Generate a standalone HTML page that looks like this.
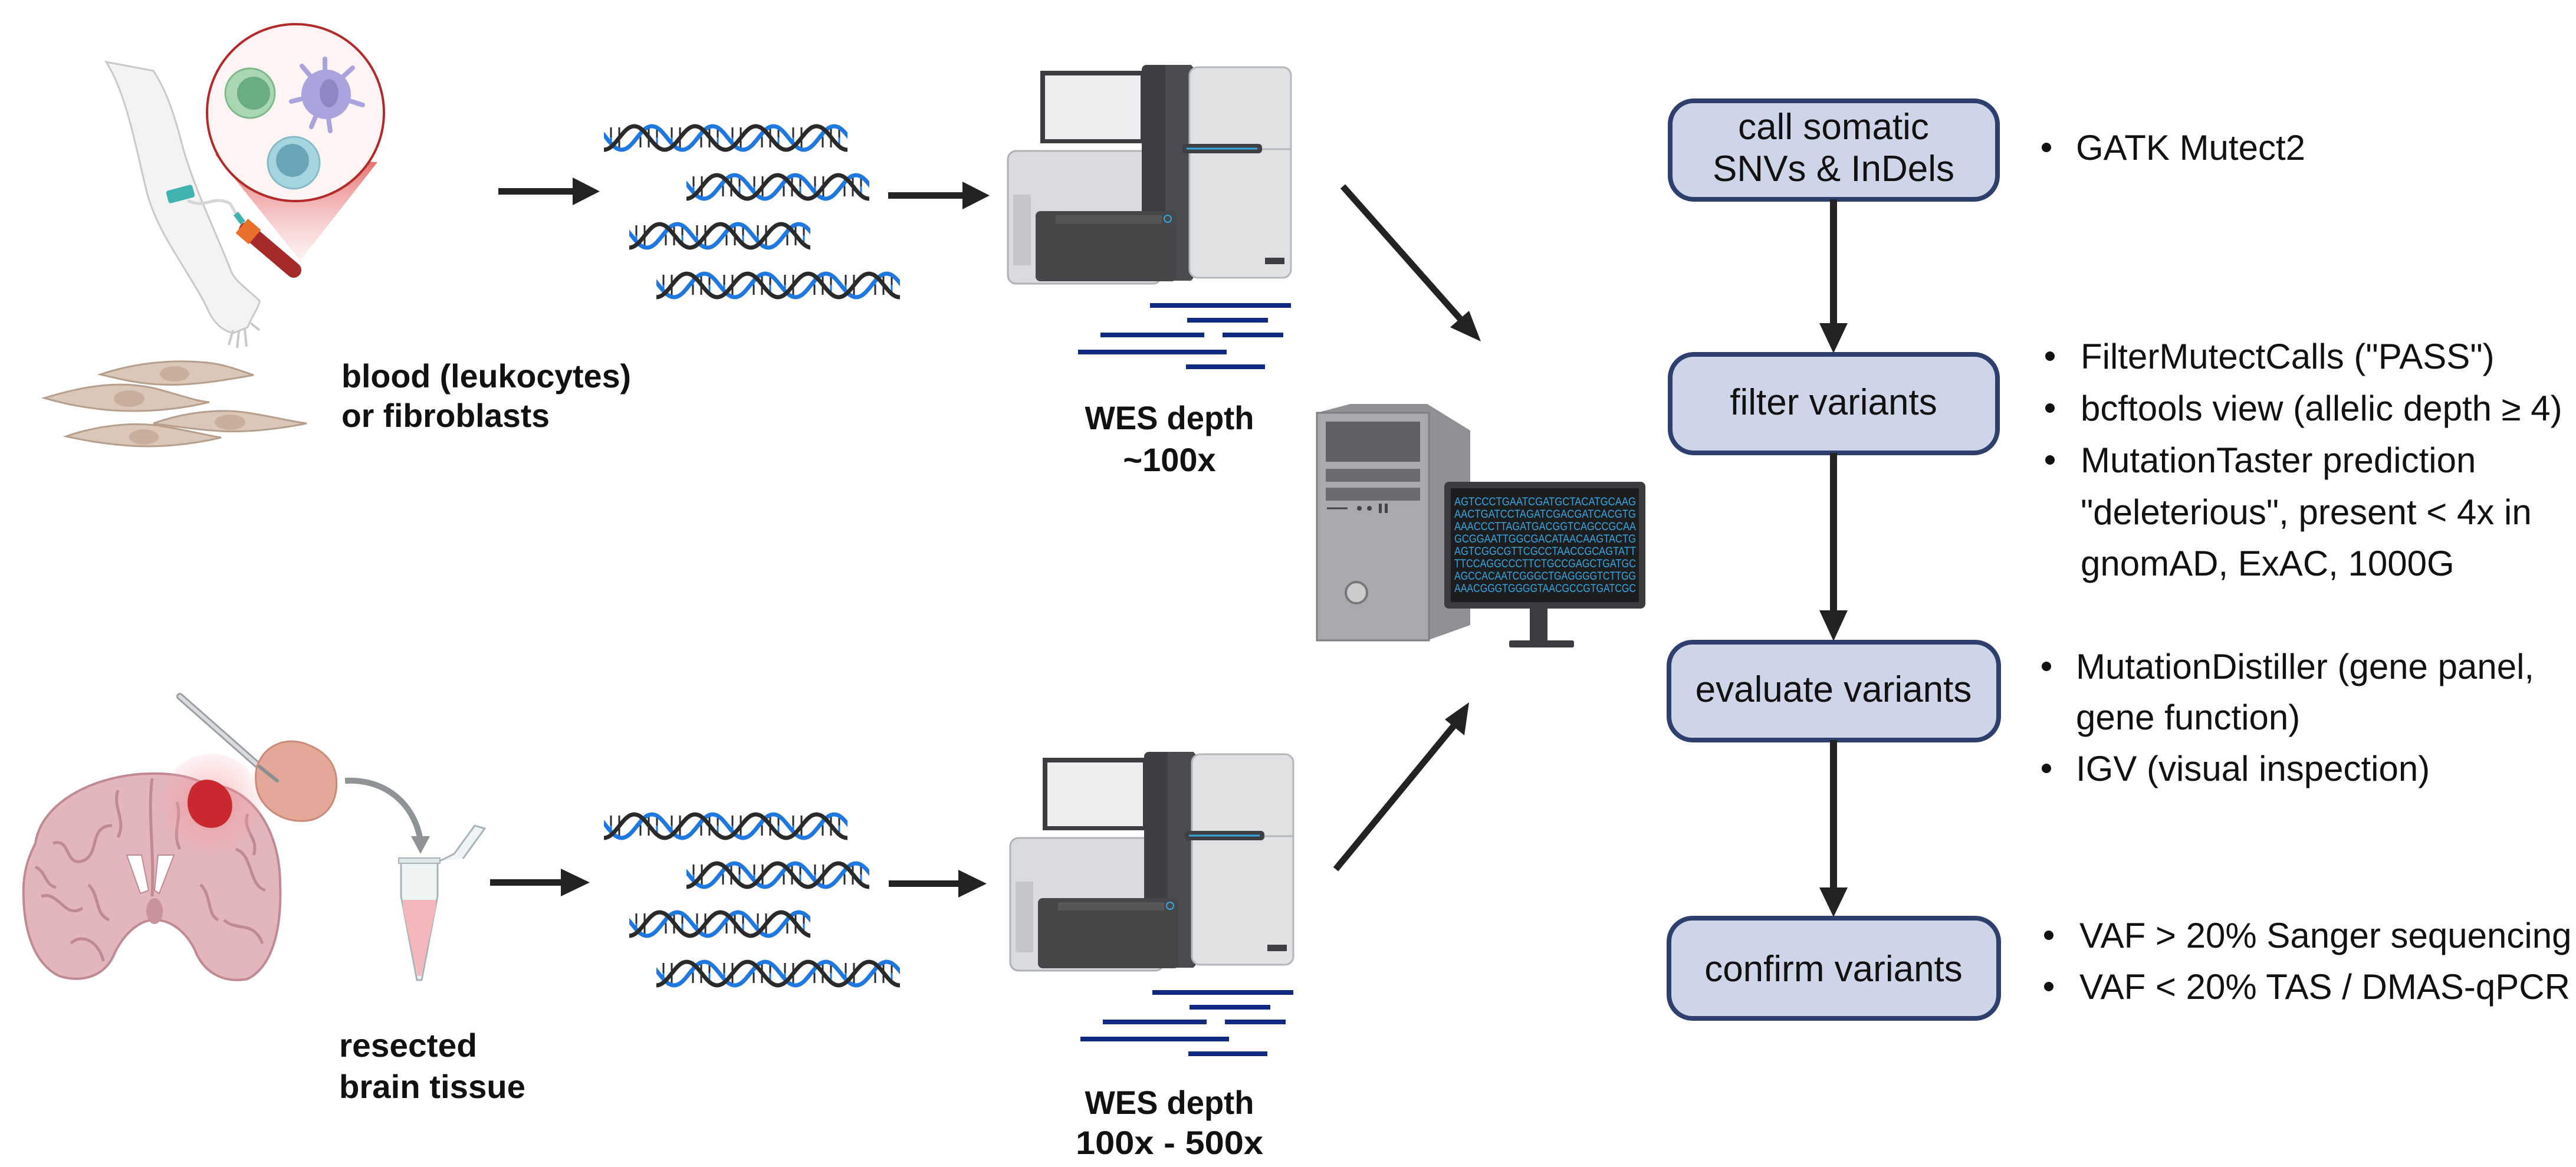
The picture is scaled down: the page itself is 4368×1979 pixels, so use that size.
<!DOCTYPE html>
<html><head><meta charset="utf-8"><style>
html,body{margin:0;padding:0;background:#fff;}
svg{display:block;}
.b{font-family:"Liberation Sans",Arial,sans-serif;font-weight:bold;fill:#111;}
.r{font-family:"Liberation Sans",Arial,sans-serif;fill:#111;}
</style></head><body>
<svg width="4368" height="1979" viewBox="0 0 4368 1979" xmlns="http://www.w3.org/2000/svg">
<defs>
<g id="per">
  <g stroke="#2a2a2a" stroke-width="3">
    <line x1="12" y1="8" x2="12" y2="42"/><line x1="26" y1="8" x2="26" y2="42"/><line x1="62" y1="8" x2="62" y2="42"/><line x1="76" y1="8" x2="76" y2="42"/><line x1="90" y1="8" x2="90" y2="42"/>
  </g>
  <g stroke="#1f78e0" stroke-width="3">
    <line x1="12" y1="25" x2="12" y2="40"/><line x1="62" y1="8" x2="62" y2="25"/><line x1="90" y1="25" x2="90" y2="40"/>
  </g>
  <g fill="none" stroke-width="7">
    <path stroke="#1f78e0" d="M-73,46 C-53,46 -41.5,6 -21.5,6 C-1.5,6 10,46 30,46 C50,46 61.5,6 81.5,6 C101.5,6 113,46 133,46"/>
    <path stroke="#2a2a2a" d="M-103,46 C-83,46 -71.5,6 -51.5,6 C-31.5,6 -20,46 0,46 C20,46 31.5,6 51.5,6 C71.5,6 83,46 103,46 C123,46 134.5,6 154.5,6"/>
  </g>
</g>
<pattern id="d1" patternUnits="userSpaceOnUse" x="1024" y="208" width="103" height="50"><use href="#per"/></pattern>
<pattern id="d2" patternUnits="userSpaceOnUse" x="1164" y="291" width="103" height="50"><use href="#per"/></pattern>
<pattern id="d3" patternUnits="userSpaceOnUse" x="1067" y="374" width="103" height="50"><use href="#per"/></pattern>
<pattern id="d4" patternUnits="userSpaceOnUse" x="1113" y="458" width="103" height="50"><use href="#per"/></pattern>
<linearGradient id="cone" x1="0" y1="0" x2="0" y2="1"><stop offset="0" stop-color="#e04b4b" stop-opacity="0.85"/><stop offset="1" stop-color="#f5b5b5" stop-opacity="0.2"/></linearGradient>
<radialGradient id="glow"><stop offset="0" stop-color="#f08080" stop-opacity="0.6"/><stop offset="1" stop-color="#f6b0b0" stop-opacity="0.15"/></radialGradient>
<g id="seq">
  <rect x="1709" y="256" width="260" height="225" rx="14" fill="#d9dbde" stroke="#aeb1b5" stroke-width="3"/>
  <rect x="1718" y="330" width="30" height="120" fill="#c4c6c9"/>
  <rect x="1764" y="120" width="176" height="123" fill="#3b3d40"/>
  <rect x="1772" y="128" width="162" height="108" fill="#eceeef"/>
  <rect x="1936" y="110" width="88" height="366" rx="8" fill="#3d3f42"/>
  <rect x="1976" y="110" width="44" height="366" fill="#4a4c50"/>
  <rect x="2017" y="114" width="172" height="357" rx="14" fill="#dfe1e3" stroke="#b5b8bb" stroke-width="3"/>
  <line x1="2017" y1="253" x2="2189" y2="253" stroke="#b5b8bb" stroke-width="3"/>
  <rect x="2005" y="244" width="135" height="16" rx="6" fill="#3d3f42"/>
  <line x1="2012" y1="252" x2="2132" y2="252" stroke="#3aa6e0" stroke-width="3"/>
  <rect x="1756" y="358" width="239" height="119" rx="8" fill="#454749"/>
  <rect x="1790" y="365" width="180" height="14" fill="#555759"/>
  <circle cx="1980" cy="371" r="6" fill="none" stroke="#3aa6e0" stroke-width="2"/>
  <rect x="2145" y="437" width="33" height="11" fill="#3d3f42"/>
  <g stroke="#0f2a80" stroke-width="8">
    <line x1="1950" y1="518" x2="2189" y2="518"/>
    <line x1="2013" y1="543" x2="2150" y2="543"/>
    <line x1="1866" y1="568" x2="2042" y2="568"/>
    <line x1="2073" y1="568" x2="2176" y2="568"/>
    <line x1="1828" y1="597" x2="2080" y2="597"/>
    <line x1="2011" y1="622" x2="2145" y2="622"/>
  </g>
</g>
<g id="dnas">
  <rect x="1024" y="208" width="413" height="50" fill="url(#d1)"/>
  <rect x="1164" y="291" width="310" height="50" fill="url(#d2)"/>
  <rect x="1067" y="374" width="307" height="50" fill="url(#d3)"/>
  <rect x="1113" y="458" width="413" height="50" fill="url(#d4)"/>
</g>
</defs>

<!-- ===== top-left: arm & blood ===== -->
<path d="M180,105 C215,160 230,250 250,330 C270,400 320,460 350,520 C360,545 375,560 395,565 L420,555 C425,540 440,520 440,510 C420,490 395,475 390,455 C360,380 330,320 310,250 C295,190 280,150 260,120 Z" fill="#f3f3f3" stroke="#c9c9c9" stroke-width="3"/>
<path d="M395,560 L388,585 M405,562 L402,590 M415,558 L418,588 M425,548 L440,560" stroke="#c9c9c9" stroke-width="4" fill="none"/>
<rect x="283" y="318" width="46" height="22" rx="4" fill="#40b3b0" transform="rotate(-15 306 329)"/>
<path d="M318,340 C350,355 360,330 390,345 L402,365" fill="none" stroke="#d6d6d6" stroke-width="5"/>
<polygon points="365,262 640,275 509,442" fill="url(#cone)"/>
<circle cx="501" cy="191" r="150" fill="#fff4f4" stroke="#b22a2a" stroke-width="4"/>
<circle cx="424" cy="158" r="42" fill="#a9d7b1" stroke="#7fb98c" stroke-width="3"/>
<circle cx="430" cy="158" r="28" fill="#69ad80"/>
<g stroke="#aaa4dc" stroke-width="8" stroke-linecap="round">
  <line x1="551" y1="158" x2="551" y2="100"/><line x1="551" y1="158" x2="598" y2="115"/><line x1="551" y1="158" x2="615" y2="178"/><line x1="551" y1="158" x2="560" y2="222"/><line x1="551" y1="158" x2="528" y2="215"/><line x1="551" y1="158" x2="494" y2="172"/><line x1="551" y1="158" x2="512" y2="112"/>
</g>
<circle cx="553" cy="160" r="42" fill="#aaa4dc"/>
<ellipse cx="558" cy="158" rx="16" ry="24" fill="#8d88c4"/>
<circle cx="498" cy="276" r="44" fill="#a5d5de" stroke="#86bcc8" stroke-width="3"/>
<circle cx="496" cy="272" r="28" fill="#6aa6b8"/>
<line x1="418" y1="390" x2="498" y2="458" stroke="#a52a2a" stroke-width="26" stroke-linecap="round"/>
<line x1="410" y1="383" x2="432" y2="402" stroke="#e8702a" stroke-width="32"/>
<line x1="400" y1="362" x2="412" y2="378" stroke="#40b3b0" stroke-width="10"/>

<!-- fibroblasts -->
<g fill="#dbc7b8" stroke="#b79f8d" stroke-width="3">
  <path d="M170,635 C230,615 290,610 340,614 C380,616 410,630 430,636 C380,645 320,655 270,652 C230,650 200,642 170,635 Z"/>
  <path d="M75,675 C140,655 200,645 260,658 C300,668 330,680 355,682 C300,695 240,700 180,695 C130,690 100,682 75,675 Z"/>
  <path d="M260,718 C310,700 370,692 420,700 C460,706 490,714 520,718 C470,728 410,735 360,730 C320,727 290,722 260,718 Z"/>
  <path d="M112,740 C160,723 220,715 270,722 C310,728 350,738 375,742 C320,755 260,760 210,755 C170,752 140,746 112,740 Z"/>
</g>
<g fill="#c7ae9d"><ellipse cx="296" cy="634" rx="25" ry="13"/><ellipse cx="219" cy="676" rx="26" ry="14"/><ellipse cx="390" cy="716" rx="26" ry="13"/><ellipse cx="244" cy="741" rx="25" ry="13"/></g>

<text class="b" x="579" y="657" font-size="56" textLength="491" lengthAdjust="spacingAndGlyphs">blood (leukocytes)</text>
<text class="b" x="579" y="724" font-size="56" textLength="353" lengthAdjust="spacingAndGlyphs">or fibroblasts</text>

<!-- top arrows -->
<g fill="#222">
  <rect x="845" y="319" width="130" height="11"/><polygon points="971,301 1017,324.5 971,348"/>
  <rect x="1506" y="326" width="130" height="11"/><polygon points="1632,308 1678,331.5 1632,355"/>
</g>
<use href="#dnas"/>
<use href="#seq"/>
<text class="b" x="1983" y="728" font-size="56" text-anchor="middle" textLength="287" lengthAdjust="spacingAndGlyphs">WES depth</text>
<text class="b" x="1983" y="799" font-size="56" text-anchor="middle">~100x</text>

<!-- diagonal arrows -->
<line x1="2277" y1="316" x2="2486" y2="552" stroke="#222" stroke-width="11"/>
<polygon points="2511,579 2459,555 2491,527" fill="#222"/>
<line x1="2265" y1="1474" x2="2474" y2="1220" stroke="#222" stroke-width="11"/>
<polygon points="2491,1191 2483,1247 2450,1220" fill="#222"/>

<!-- computer -->
<path d="M2233,700 L2290,685 L2420,685 L2493,730 L2493,1060 L2420,1086 L2233,1086 Z" fill="#8e9094"/>
<rect x="2233" y="700" width="190" height="386" fill="#a7a9ac" stroke="#7d7f82" stroke-width="3"/>
<rect x="2248" y="715" width="160" height="68" fill="#5e6064"/>
<rect x="2248" y="795" width="160" height="22" fill="#6b6d70"/>
<rect x="2248" y="827" width="160" height="22" fill="#6b6d70"/>
<line x1="2250" y1="862" x2="2285" y2="862" stroke="#444" stroke-width="3"/>
<circle cx="2305" cy="862" r="4" fill="#444"/><circle cx="2322" cy="862" r="4" fill="#444"/>
<rect x="2338" y="854" width="5" height="16" fill="#444"/><rect x="2348" y="854" width="5" height="16" fill="#444"/>
<circle cx="2300" cy="1005" r="18" fill="#ccc" stroke="#777" stroke-width="4"/>
<rect x="2594" y="1030" width="30" height="58" fill="#3a3c3f"/>
<rect x="2559" y="1086" width="110" height="12" rx="3" fill="#3a3c3f"/>
<rect x="2449" y="817" width="341" height="215" rx="8" fill="#3a3c3f"/>
<rect x="2460" y="828" width="319" height="193" fill="#1c1d1f"/>
<g font-family="'Liberation Sans',Arial,sans-serif" font-size="19" fill="#3aa6e0">
<text x="2466" y="857" textLength="308" lengthAdjust="spacingAndGlyphs">AGTCCCTGAATCGATGCTACATGCAAG</text>
<text x="2466" y="878" textLength="308" lengthAdjust="spacingAndGlyphs">AACTGATCCTAGATCGACGATCACGTG</text>
<text x="2466" y="899" textLength="308" lengthAdjust="spacingAndGlyphs">AAACCCTTAGATGACGGTCAGCCGCAA</text>
<text x="2466" y="920" textLength="308" lengthAdjust="spacingAndGlyphs">GCGGAATTGGCGACATAACAAGTACTG</text>
<text x="2466" y="941" textLength="308" lengthAdjust="spacingAndGlyphs">AGTCGGCGTTCGCCTAACCGCAGTATT</text>
<text x="2466" y="962" textLength="308" lengthAdjust="spacingAndGlyphs">TTCCAGGCCCTTCTGCCGAGCTGATGC</text>
<text x="2466" y="983" textLength="308" lengthAdjust="spacingAndGlyphs">AGCCACAATCGGGCTGAGGGGTCTTGG</text>
<text x="2466" y="1004" textLength="308" lengthAdjust="spacingAndGlyphs">AAACGGGTGGGGTAACGCCGTGATCGC</text>
</g>

<!-- ===== bottom-left: brain ===== -->
<path d="M60,1430 C70,1360 160,1315 250,1312 C300,1310 330,1320 350,1330 C420,1330 475,1400 475,1500 C478,1580 460,1640 420,1660 C380,1668 345,1650 330,1610 C315,1580 290,1560 262,1560 C235,1560 210,1585 195,1615 C180,1655 140,1668 100,1655 C50,1630 38,1560 40,1500 C42,1470 50,1450 60,1430 Z" fill="#e3b5bd" stroke="#c08a95" stroke-width="4"/>
<g fill="none" stroke="#c08a95" stroke-width="5">
  <path d="M258,1320 C250,1380 262,1440 258,1520"/>
  <path d="M90,1430 C120,1420 110,1470 140,1460 C170,1450 150,1400 190,1400"/>
  <path d="M70,1520 C100,1510 110,1560 140,1540"/>
  <path d="M400,1440 C430,1450 420,1500 450,1510"/>
  <path d="M380,1560 C400,1580 430,1560 445,1600"/>
  <path d="M120,1600 C140,1580 170,1600 175,1630"/>
  <path d="M60,1470 C80,1480 75,1500 95,1505"/>
  <path d="M300,1360 C310,1390 290,1410 305,1440"/>
  <path d="M200,1340 C190,1370 215,1390 200,1420"/>
  <path d="M420,1380 C410,1410 440,1420 430,1450"/>
  <path d="M150,1500 C170,1520 160,1550 185,1560"/>
  <path d="M340,1500 C360,1520 350,1550 370,1560"/>
</g>
<path d="M215,1450 L240,1450 L252,1510 L238,1515 Z M268,1450 L295,1450 L270,1515 L262,1510 Z" fill="#fff" stroke="#c08a95" stroke-width="2"/>
<ellipse cx="262" cy="1545" rx="14" ry="22" fill="#c9939d"/>
<circle cx="358" cy="1363" r="85" fill="url(#glow)"/>
<path d="M325,1335 C340,1315 370,1320 385,1340 C400,1360 395,1390 375,1400 C355,1410 330,1400 322,1380 C315,1365 318,1348 325,1335 Z" fill="#c8282e"/>
<line x1="305" y1="1181" x2="440" y2="1300" stroke="#9aa0a3" stroke-width="12" stroke-linecap="round"/>
<line x1="305" y1="1181" x2="440" y2="1300" stroke="#d9dcde" stroke-width="6" stroke-linecap="round"/>
<path d="M440,1290 C455,1260 490,1250 520,1262 C555,1275 575,1300 570,1340 C565,1375 540,1395 505,1392 C470,1390 440,1365 435,1335 C432,1315 434,1300 440,1290 Z" fill="#e3a897" stroke="#c98a78" stroke-width="3"/>
<line x1="440" y1="1300" x2="470" y2="1324" stroke="#8a8f92" stroke-width="6" stroke-linecap="round"/>
<path d="M585,1324 C650,1320 700,1360 712,1420" fill="none" stroke="#8e9396" stroke-width="10"/>
<polygon points="697,1418 729,1418 713,1448" fill="#8e9396"/>
<path d="M680,1461 L742,1461 L742,1520 L715,1662 L707,1662 L680,1520 Z" fill="#eef3f4" stroke="#a9b4b8" stroke-width="3"/>
<path d="M683,1526 L739,1526 L739,1540 L714,1655 L708,1655 L683,1540 Z" fill="#f4b8bc"/>
<rect x="676" y="1455" width="70" height="9" fill="#dfe6e8" stroke="#a9b4b8" stroke-width="2"/>
<path d="M746,1460 L770,1448 L805,1400 L822,1405 L785,1456" fill="#eef3f4" stroke="#a9b4b8" stroke-width="3"/>

<text class="b" x="575" y="1792" font-size="56" textLength="234" lengthAdjust="spacingAndGlyphs">resected</text>
<text class="b" x="575" y="1862" font-size="56" textLength="316" lengthAdjust="spacingAndGlyphs">brain tissue</text>

<g fill="#222">
  <rect x="831" y="1491" width="120" height="11"/><polygon points="951,1473 1000,1496.5 951,1520"/>
  <rect x="1507" y="1493" width="120" height="11"/><polygon points="1625,1475 1673,1498.5 1625,1522"/>
</g>
<use href="#dnas" transform="translate(0,1167)"/>
<use href="#seq" transform="translate(4,1165)"/>
<text class="b" x="1983" y="1889" font-size="56" text-anchor="middle" textLength="287" lengthAdjust="spacingAndGlyphs">WES depth</text>
<text class="b" x="1983" y="1957" font-size="56" text-anchor="middle" textLength="318" lengthAdjust="spacingAndGlyphs">100x - 500x</text>

<!-- ===== flowchart ===== -->
<g fill="#ced5e8" stroke="#2e3f6e" stroke-width="8">
  <rect x="2832" y="171" width="555" height="167" rx="40"/>
  <rect x="2832" y="601" width="555" height="167" rx="40"/>
  <rect x="2830" y="1089" width="559" height="166" rx="40"/>
  <rect x="2830" y="1557" width="559" height="170" rx="40"/>
</g>
<g fill="#222">
  <rect x="3103" y="338" width="12" height="215"/><polygon points="3085,548 3133,548 3109,599"/>
  <rect x="3103" y="768" width="12" height="270"/><polygon points="3085,1035 3133,1035 3109,1087"/>
  <rect x="3103" y="1255" width="12" height="255"/><polygon points="3085,1505 3133,1505 3109,1555"/>
</g>
<g class="r" font-size="62" text-anchor="middle">
  <text class="r" x="3109" y="236">call somatic</text>
  <text class="r" x="3109" y="307">SNVs &amp; InDels</text>
  <text class="r" x="3109" y="703">filter variants</text>
  <text class="r" x="3109" y="1190">evaluate variants</text>
  <text class="r" x="3109" y="1664">confirm variants</text>
</g>
<g fill="#111">
  <circle cx="3470" cy="250" r="8"/>
  <circle cx="3476" cy="604" r="8"/><circle cx="3476" cy="692" r="8"/><circle cx="3476" cy="780" r="8"/>
  <circle cx="3470" cy="1130" r="8"/><circle cx="3470" cy="1303" r="8"/>
  <circle cx="3474" cy="1586" r="8"/><circle cx="3474" cy="1673" r="8"/>
</g>
<g font-size="60">
  <text class="r" x="3520" y="271">GATK Mutect2</text>
  <text class="r" x="3528" y="625">FilterMutectCalls ("PASS")</text>
  <text class="r" x="3528" y="713">bcftools view (allelic depth ≥ 4)</text>
  <text class="r" x="3528" y="801">MutationTaster prediction</text>
  <text class="r" x="3528" y="889">"deleterious", present &lt; 4x in</text>
  <text class="r" x="3528" y="976">gnomAD, ExAC, 1000G</text>
  <text class="r" x="3520" y="1151">MutationDistiller (gene panel,</text>
  <text class="r" x="3520" y="1237">gene function)</text>
  <text class="r" x="3520" y="1324">IGV (visual inspection)</text>
  <text class="r" x="3526" y="1607">VAF &gt; 20% Sanger sequencing</text>
  <text class="r" x="3526" y="1694">VAF &lt; 20% TAS / DMAS-qPCR</text>
</g>
</svg>
</body></html>
